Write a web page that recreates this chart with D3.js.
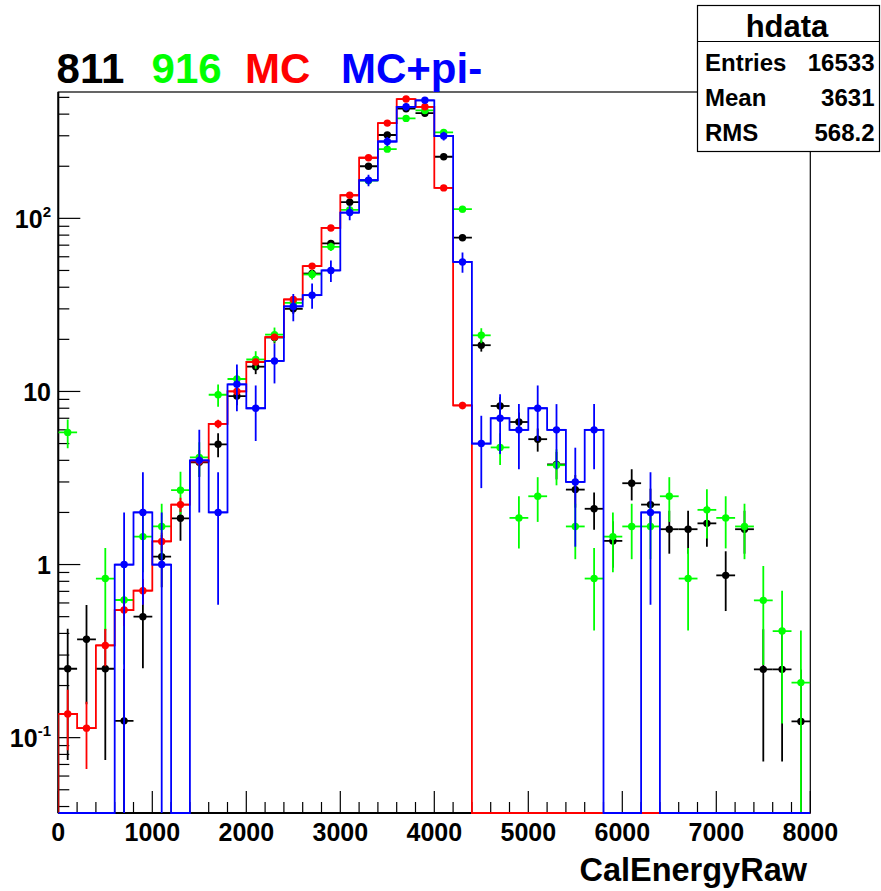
<!DOCTYPE html>
<html>
<head>
<meta charset="utf-8">
<script src="https://cdn.jsdelivr.net/npm/d3@7/dist/d3.min.js"></script>
<style>
body { margin: 0; background: #fff; }
svg { display: block; font-family: "Liberation Sans", Arial, Helvetica, sans-serif; font-weight: bold; }
</style>
</head>
<body>
<div id="chart"></div>
<script>
// CalEnergyRaw, 40 bins of 200 from 0 to 8000, log y
const binWidth = 200;
const binEdges = d3.range(0, 8001, binWidth);

// bin contents (0 = empty bin)
const data811 = [0.25, 0.37, 0.25, 0.125, 0.5, 1.11, 1.85, 3.9, 4.95, 9.4,
    13.9, 20.5, 30, 48, 71.6, 124, 200, 303, 430, 405,
    227, 77.3, 18.5, 8.24, 6.66, 5.3, 3.79, 2.71, 2.1, 1.37,
    2.95, 2.22, 1.6, 1.6, 1.73, 0.866, 1.6, 0.248, 0.248, 0.124];
const data916 = [5.8, 0, 0.83, 0.624, 1.45, 1.66, 2.69, 4.16, 9.57, 11.8,
    15.3, 21.3, 32.5, 47.4, 68.5, 112, 165, 251, 378, 420,
    314, 113, 21.1, 4.75, 1.86, 2.48, 3.75, 1.66, 0.83, 1.45,
    1.66, 1.66, 2.48, 0.83, 2.07, 1.86, 1.66, 0.621, 0.413, 0.208];
const dataMC = [0.137, 0.1135, 0.341, 0.546, 0.706, 1.36, 2.22, 3.95, 6.5, 10,
    14.8, 20.6, 34, 53, 88, 136, 224, 355, 489, 441,
    150, 8.3, 0, 0, 0, 0, 0, 0, 0, 0,
    0, 0, 0, 0, 0, 0, 0, 0, 0, 0];
const dataMCpi = [0, 0, 0, 1, 2, 1, 0, 4, 2, 11,
    8, 15, 31, 36, 50, 108, 166, 278, 441, 481,
    299, 56, 5, 7, 6, 8, 6, 3, 6, 0,
    0, 2, 0, 0, 0, 0, 0, 0, 0, 0];

// weight of one entry, used for the sqrt(N) error bars
const weight811 = 0.1236, weight916 = 0.207, weightMC = 0.02, weightMCpi = 1;

const xTicks = [0, 1000, 2000, 3000, 4000, 5000, 6000, 7000, 8000];
const yTicks = [0.1, 1, 10, 100];
const yTickBase = ["10", "1", "10", "10"];
const yTickExp = ["-1", "", "", "2"];

const titleWords = ["811", "916", "MC", "MC+pi-"];
const titleColors = ["#000000", "#00ff00", "#ff0000", "#0000ff"];
const statsName = "hdata";
const statsLabels = ["Entries", "Mean", "RMS"];
const statsValues = ["16533", "3631", "568.2"];

const width = 881, height = 891;
const padL = 58.3, padR = 810.3, padT = 92, padB = 813;

const svg = d3.select("#chart").append("svg")
    .attr("width", width)
    .attr("height", height);

const x = d3.scaleLinear().domain([0, 8000]).range([padL, padR]);
const y = d3.scaleLog().domain([0.0367, 537]).range([padB, padT]);
const yv = v => v > 0 ? Math.min(y(v), padB) : padB;

svg.append("clipPath").attr("id", "plotclip")
    .append("rect")
    .attr("x", padL).attr("y", padT)
    .attr("width", padR - padL).attr("height", padB - padT + 1.5);

// frame
svg.append("rect")
    .attr("x", padL).attr("y", padT)
    .attr("width", padR - padL).attr("height", padB - padT)
    .attr("fill", "none").attr("stroke", "#000").attr("stroke-width", 1.2);

// x ticks
const xMinor = d3.range(0, 8001, 200);
svg.append("g").selectAll("line")
    .data(xMinor)
    .join("line")
    .attr("x1", d => x(d)).attr("x2", d => x(d))
    .attr("y1", padB)
    .attr("y2", d => d % 1000 === 0 ? padB - 22 : padB - 11)
    .attr("stroke", "#000").attr("stroke-width", 1.2);

svg.append("g").selectAll("text")
    .data(xTicks)
    .join("text")
    .attr("x", d => x(d))
    .attr("y", 841)
    .attr("text-anchor", "middle")
    .attr("font-size", 25)
    .text(d => d);

// y ticks (log)
const yMinor = [];
for (let e = -2; e <= 2; e++) {
    for (let k = 1; k <= 9; k++) {
        const v = k * Math.pow(10, e);
        if (v >= y.domain()[0] && v <= y.domain()[1]) yMinor.push({ v, major: k === 1 });
    }
}
svg.append("g").selectAll("line")
    .data(yMinor)
    .join("line")
    .attr("x1", padL)
    .attr("x2", d => d.major ? padL + 22 : padL + 11)
    .attr("y1", d => y(d.v)).attr("y2", d => y(d.v))
    .attr("stroke", "#000").attr("stroke-width", 1.2);

const yLab = svg.append("g").selectAll("text")
    .data(yTicks)
    .join("text")
    .attr("x", 51)
    .attr("y", d => y(d) + 9.5)
    .attr("text-anchor", "end")
    .attr("font-size", 25);
yLab.append("tspan").text((d, i) => yTickBase[i]);
yLab.append("tspan")
    .attr("font-size", 15)
    .attr("dy", -11)
    .text((d, i) => yTickExp[i]);

// axis lines on top of frame
svg.append("line").attr("x1", padL).attr("x2", padL).attr("y1", padT).attr("y2", padB)
    .attr("stroke", "#000").attr("stroke-width", 2);
svg.append("line").attr("x1", padL).attr("x2", padR).attr("y1", padB).attr("y2", padB)
    .attr("stroke", "#000").attr("stroke-width", 2);

// histograms
const plot = svg.append("g").attr("clip-path", "url(#plotclip)");

function drawSeries(values, w, color, withHist) {
    const g = plot.append("g");
    const bins = values.map((v, i) => ({ v, lo: binEdges[i], hi: binEdges[i + 1], c: (binEdges[i] + binEdges[i + 1]) / 2 }))
        .filter(d => d.v > 0);

    if (withHist) {
        const pts = [[x(binEdges[0]), padB]];
        values.forEach((v, i) => {
            pts.push([x(binEdges[i]), yv(v)]);
            pts.push([x(binEdges[i + 1]), yv(v)]);
        });
        pts.push([x(binEdges[binEdges.length - 1]), padB]);
        g.append("path")
            .attr("d", d3.line()(pts))
            .attr("fill", "none")
            .attr("stroke", color)
            .attr("stroke-width", 1.8);
    }

    // horizontal error bars (bin width)
    g.append("g").selectAll("line")
        .data(bins)
        .join("line")
        .attr("x1", d => x(d.lo)).attr("x2", d => x(d.hi))
        .attr("y1", d => y(d.v)).attr("y2", d => y(d.v))
        .attr("stroke", color).attr("stroke-width", 1.8);

    // vertical error bars
    g.append("g").selectAll("line")
        .data(bins)
        .join("line")
        .attr("x1", d => x(d.c)).attr("x2", d => x(d.c))
        .attr("y1", d => y(d.v + Math.sqrt(d.v * w)))
        .attr("y2", d => yv(d.v - Math.sqrt(d.v * w)))
        .attr("stroke", color).attr("stroke-width", 1.8);

    g.append("g").selectAll("circle")
        .data(bins)
        .join("circle")
        .attr("cx", d => x(d.c))
        .attr("cy", d => y(d.v))
        .attr("r", 3.7)
        .attr("fill", color);
}

drawSeries(data811, weight811, "#000000", false);
drawSeries(data916, weight916, "#00ff00", false);
drawSeries(dataMC, weightMC, "#ff0000", true);
drawSeries(dataMCpi, weightMCpi, "#0000ff", true);

// title
const titleX = [56.6, 151.6, 245, 341];
svg.append("g").selectAll("text")
    .data(titleWords)
    .join("text")
    .attr("x", (d, i) => titleX[i])
    .attr("y", 83)
    .attr("font-size", 42)
    .attr("fill", (d, i) => titleColors[i])
    .text(d => d);

// axis title
svg.append("text")
    .attr("x", 807)
    .attr("y", 881)
    .attr("text-anchor", "end")
    .attr("font-size", 32.5)
    .text("CalEnergyRaw");

// stats box
const box = svg.append("g");
box.append("rect")
    .attr("x", 697.5).attr("y", 5.5)
    .attr("width", 182).attr("height", 146)
    .attr("fill", "#fff").attr("stroke", "#000").attr("stroke-width", 1.2);
box.append("line")
    .attr("x1", 697.5).attr("x2", 879.5).attr("y1", 41.5).attr("y2", 41.5)
    .attr("stroke", "#000").attr("stroke-width", 1.2);
box.append("text")
    .attr("x", 787).attr("y", 37)
    .attr("text-anchor", "middle")
    .attr("font-size", 31)
    .text(statsName);
box.selectAll("text.lab")
    .data(statsLabels)
    .join("text")
    .attr("class", "lab")
    .attr("x", 705).attr("y", (d, i) => 71 + i * 34.8)
    .attr("font-size", 24)
    .text(d => d);
box.selectAll("text.val")
    .data(statsValues)
    .join("text")
    .attr("class", "val")
    .attr("x", 874.5).attr("y", (d, i) => 71 + i * 34.8)
    .attr("text-anchor", "end")
    .attr("font-size", 24)
    .text(d => d);
</script>
</body>
</html>
